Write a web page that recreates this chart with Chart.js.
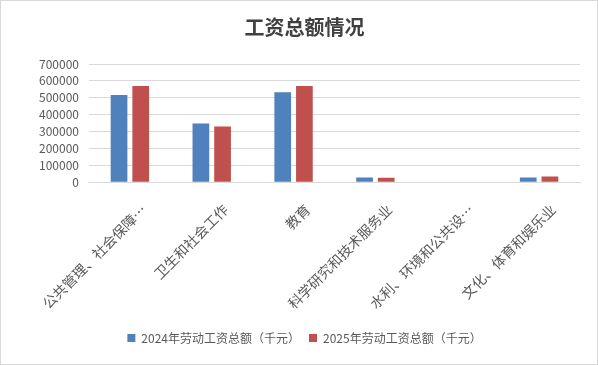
<!DOCTYPE html>
<html>
<head>
<meta charset="utf-8">
<script src="https://cdn.jsdelivr.net/npm/chart.js@4"></script>
<style>
  html, body { margin: 0; padding: 0; background: #fff; }
  #box { width: 598px; height: 365px; box-sizing: border-box; border: 1px solid #d9d9d9; }
  canvas { display: block; }
</style>
</head>
<body>
<div id="box"><canvas id="wage" width="596" height="363"></canvas></div>
<script>
var categories = ["公共管理、社会保障…", "卫生和社会工作", "教育", "科学研究和技术服务业", "水利、环境和公共设…", "文化、体育和娱乐业"];
var series2024 = [516000, 348000, 532000, 28000, 0, 27000];
var series2025 = [570000, 330000, 570000, 26000, 0, 34000];
var yTicks = [0, 100000, 200000, 300000, 400000, 500000, 600000, 700000];

var font = "'Noto Sans CJK SC', 'Noto Sans', sans-serif";

new Chart("wage", {
  type: "bar",
  data: {
    labels: categories,
    datasets: [{
      label: "2024年劳动工资总额（千元）",
      data: series2024,
      backgroundColor: "#4f81bd",
      categoryPercentage: 0.53,
      barPercentage: 0.77
    }, {
      label: "2025年劳动工资总额（千元）",
      data: series2025,
      backgroundColor: "#c0504d",
      categoryPercentage: 0.53,
      barPercentage: 0.77
    }]
  },
  options: {
    responsive: false,
    animation: false,
    layout: { padding: { left: 28, right: 17, top: 10, bottom: 10 } },
    plugins: {
      title: {
        display: true,
        text: "工资总额情况",
        color: "#404040",
        font: { family: font, size: 20, weight: "bold" },
        padding: { top: 4, bottom: 25 }
      },
      legend: {
        display: true,
        position: "bottom",
        labels: {
          boxWidth: 8,
          boxHeight: 8,
          color: "#595959",
          font: { family: font, size: 12 },
          padding: 9
        }
      },
      tooltip: { enabled: false }
    },
    scales: {
      x: {
        grid: { display: false },
        border: { color: "#d9d9d9" },
        ticks: {
          color: "#595959",
          font: { family: font, size: 14 },
          minRotation: 45,
          maxRotation: 45,
          autoSkip: false,
          padding: 11,
          labelOffset: 14
        }
      },
      y: {
        min: 0,
        max: 700000,
        afterBuildTicks: function (axis) {
          axis.ticks = yTicks.map(function (v) { return { value: v }; });
        },
        grid: { color: "#d9d9d9", drawTicks: false },
        border: { display: false },
        ticks: {
          autoSkip: false,
          color: "#595959",
          font: { family: font, size: 12 },
          padding: 10,
          callback: function (v) { return String(v); }
        }
      }
    }
  }
});
</script>
</body>
</html>
